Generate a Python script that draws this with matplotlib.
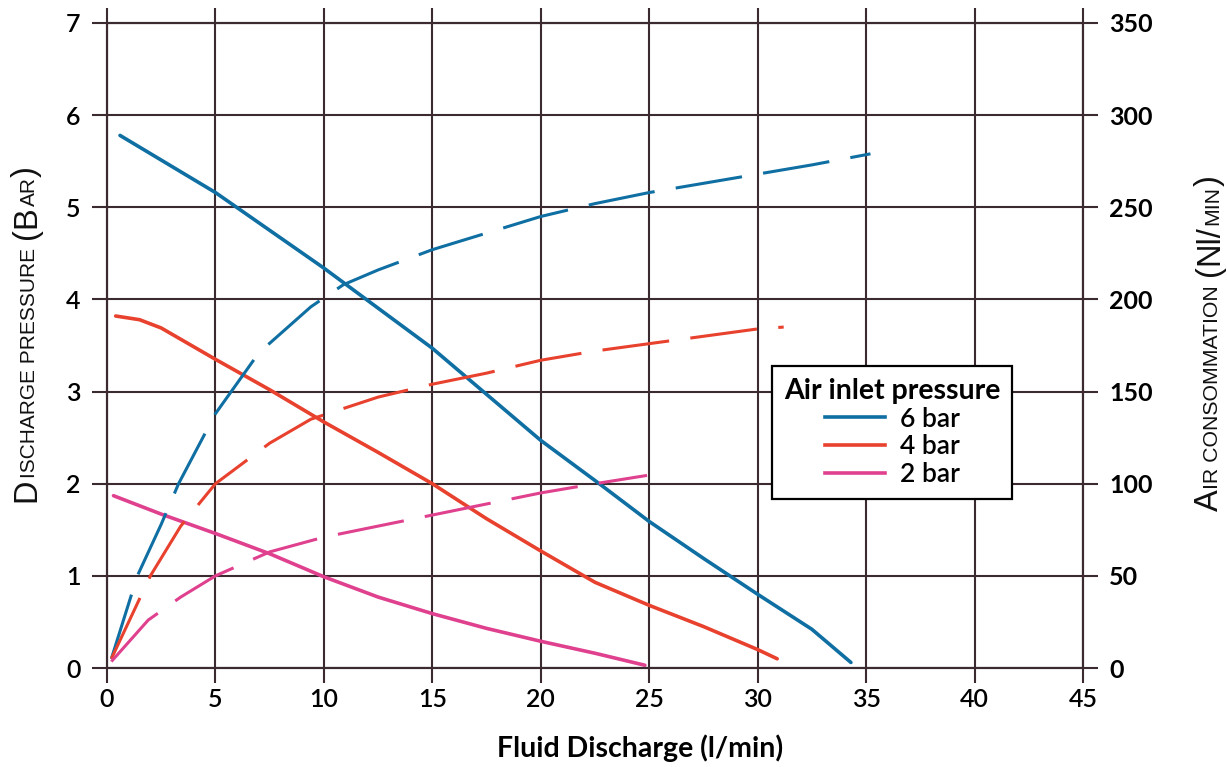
import matplotlib.pyplot as plt
from matplotlib.lines import Line2D

# solid curves: discharge pressure (bar) vs fluid discharge (l/min)
flow_6 = [0.6, 5, 10, 15, 20, 22.7, 25, 27.5, 30, 32.5, 34.3]
press_6 = [5.78, 5.16, 4.34, 3.47, 2.47, 2.0, 1.59, 1.19, 0.8, 0.42, 0.06]
flow_4 = [0.4, 1.5, 2.5, 5, 7.5, 10, 12.5, 15, 17.5, 20, 22.5, 25, 27.5, 30, 30.9]
press_4 = [3.82, 3.78, 3.69, 3.35, 3.02, 2.67, 2.34, 2.0, 1.62, 1.27, 0.93, 0.68, 0.45, 0.2, 0.1]
flow_2 = [0.3, 2.5, 5, 7.5, 10, 12.5, 15, 17.5, 20, 22.5, 24.8]
press_2 = [1.87, 1.67, 1.46, 1.24, 0.99, 0.77, 0.59, 0.43, 0.29, 0.16, 0.03]

# dashed curves: air consumption (Nl/min)
air_flow_6 = [0.2, 1.4, 2.5, 3.3, 5, 7, 9.4, 10.9, 12.5, 15, 17.5, 20, 22.5, 25, 27.5, 30, 32.5, 35.2]
air_6 = [5, 50, 78, 100, 138, 171, 196, 208, 216, 227, 236, 245, 252, 258, 263, 268, 273, 279]
air_flow_4 = [0.2, 2.0, 3.4, 5, 7.5, 9.4, 12.5, 15, 17.5, 20, 22.5, 25, 27.5, 30, 31.2]
air_4 = [5, 50, 77, 100, 122, 135, 147, 154, 160, 167, 172, 176, 180, 184, 185]
air_flow_2 = [0.2, 1.9, 3.4, 5, 7.5, 10, 12.5, 15, 17.5, 20, 22.5, 24.9]
air_2 = [3.5, 26, 38.5, 50, 63, 71, 77, 83, 89, 95, 100, 104.5]

x_ticks = list(range(0, 46, 5))
left_ticks = list(range(0, 8))
right_ticks = list(range(0, 351, 50))
legend_labels = ['6 bar', '4 bar', '2 bar']

BLUE = '#0f6fa3'
RED = '#e8412e'
PINK = '#e0418f'
GRID = '#3b2a2f'
W, H = 1227, 767

fig = plt.figure(figsize=(W / 100, H / 100), dpi=100)
ax = fig.add_axes([107 / W, 1 - 668 / H, (1083 - 107) / W, (668 - 23) / H])
ax2 = ax.twinx()

ax.set_xlim(0, 45)
ax.set_ylim(0, 7)
ax2.set_ylim(0, 350)
ax.set_xticks(x_ticks)
ax.set_yticks(left_ticks)
ax2.set_yticks(right_ticks)
ax.grid(True, color=GRID, lw=1.5)
ax.set_axisbelow(True)

for a in (ax, ax2):
    for s in a.spines.values():
        s.set_color(GRID)
        s.set_linewidth(1.5)
ax.tick_params(axis='both', direction='out', length=11, width=1.5, color=GRID,
               top=True, labeltop=False)
ax.tick_params(axis='y', pad=8)
ax.tick_params(axis='x', pad=3.5)
ax2.tick_params(axis='y', direction='out', length=11, width=1.5, color=GRID, pad=8)

for lab in ax.get_xticklabels() + ax.get_yticklabels():
    lab.set_fontfamily('Lato')
    lab.set_fontsize(18)
    lab.set_fontweight('semibold')
for lab in ax2.get_yticklabels():
    lab.set_fontfamily('Lato')
    lab.set_fontsize(18)
    lab.set_fontweight('bold')

lw_s = 2.6
lw_d = 2.2
dash = (0, (22, 7))
ax.plot(flow_6, press_6, color=BLUE, lw=lw_s, solid_capstyle='round', zorder=3)
ax.plot(flow_4, press_4, color=RED, lw=lw_s, solid_capstyle='round', zorder=3)
ax.plot(flow_2, press_2, color=PINK, lw=lw_s, solid_capstyle='round', zorder=3)
ax2.plot(air_flow_6, air_6, color=BLUE, lw=lw_d, linestyle=dash)
ax2.plot(air_flow_4, air_4, color=RED, lw=lw_d, linestyle=dash)
ax2.plot(air_flow_2, air_2, color=PINK, lw=lw_d, linestyle=dash)

handles = [Line2D([], [], color=c, lw=lw_s) for c in (BLUE, RED, PINK)]
leg = ax2.legend(handles, legend_labels, title='Air inlet pressure',
                 loc='upper left', bbox_to_anchor=(772 / W, 1 - 366 / H),
                 bbox_transform=fig.transFigure, borderaxespad=0,
                 prop={'family': 'Lato', 'size': 19, 'weight': 'semibold'},
                 title_fontproperties={'family': 'Lato', 'size': 20.5, 'weight': 'bold'},
                 handlelength=2.3, handletextpad=0.55, labelspacing=0.1,
                 borderpad=0.45, fancybox=False, framealpha=1, edgecolor='black')
leg.get_frame().set_linewidth(1.6)
leg.set_zorder(5)

fig.text(640 / W, 1 - 757 / H, 'Fluid Discharge (l/min)', family='Lato',
         fontsize=20.5, weight='bold', ha='center', va='baseline')

# rotated labels with small caps built from pieces
renderer = fig.canvas.get_renderer()


def advance(s, size, family):
    t = fig.text(0, 0, s + '|', fontsize=size, family=family)
    r = fig.text(0, 0, '|', fontsize=size, family=family)
    w = t.get_window_extent(renderer).width - r.get_window_extent(renderer).width
    t.remove()
    r.remove()
    return w


def small_caps(pieces, x_px, yc_px, big, small, family='Liberation Sans'):
    # pieces: (text, big?) or a number = extra gap in pixels
    items = []
    for p in pieces:
        if isinstance(p, (int, float)):
            items.append((None, 0, p))
        else:
            sz = big if p[1] else small
            items.append((p[0], sz, advance(p[0], sz, family)))
    y = yc_px + sum(w for _, _, w in items) / 2
    for s, sz, w in items:
        if s is not None:
            fig.text(x_px / W, 1 - y / H, s, fontsize=sz, family=family, rotation=90,
                     rotation_mode='anchor', ha='left', va='baseline', color='#111111')
        y -= w


small_caps([('D', True), ('ISCHARGE PRESSURE', False), 9, ('(', True), ('B', True),
            ('AR', False), (')', True)], 35, 334, 23.5, 15)
small_caps([('A', True), ('IR CONSOMMATION', False), 9, ('(', True), ('Nl/', True),
            ('MIN', False), (')', True)], 1218, 343, 23.5, 15.3)

fig.savefig('out.png', dpi=100)
